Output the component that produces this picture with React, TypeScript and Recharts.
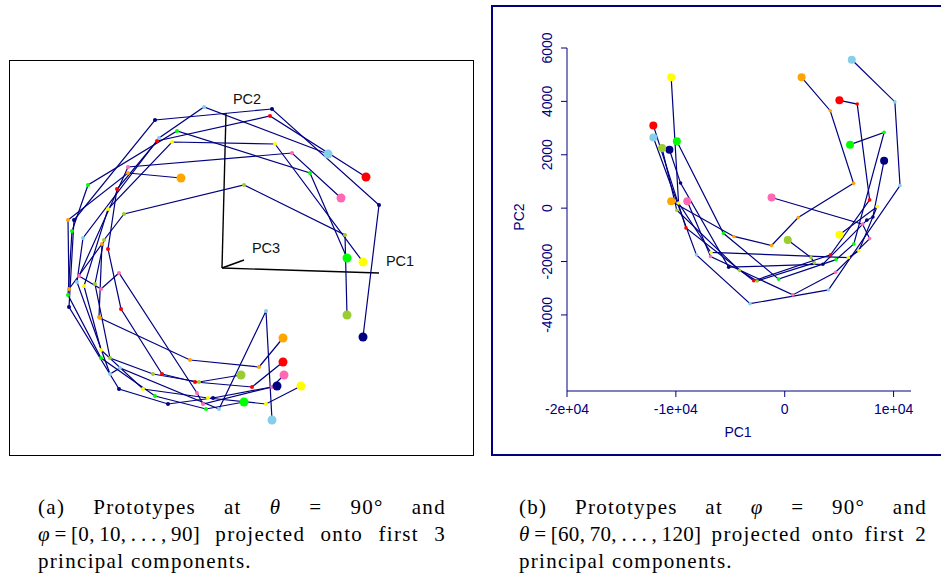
import React from "react";
import { ScatterChart, Scatter, XAxis, YAxis, ReferenceLine } from "recharts";

const NAVY = "#000080";
const SANS = "'Liberation Sans', Arial, Helvetica, sans-serif";
const SERIF = "'Liberation Serif', 'Times New Roman', serif";

// (a) prototypes, phi = 0..90, projected onto PC1-PC3 (screen projection units, origin at the PC axes)
const leftOrange = [[-41, 90], [-94, 95], [-154, 48], [-153, -21], [-120, 24], [-123, -49], [-122, -50], [-32, -92], [37, -99], [61, -70]];
const leftRed = [[144, 91], [48, 152], [-65, 127], [-105, 79], [-114, 19], [-101, -41], [-60, -106], [-27, -114], [30, -119], [61, -94]];
const leftPink = [[119, 70], [70, 115], [-94, 101], [-143, -8], [-121, -21], [-103, -5], [-25, -125], [-19, -136], [50, -119], [62, -107]];
const leftNavy = [[141, -69], [157, 63], [50, 159], [-67, 148], [-148, 48], [-153, -39], [-103, -121], [-54, -136], [-9, -130], [55, -118]];
const leftYellow = [[141, 6], [53, 124], [-50, 126], [-114, 59], [-138, -18], [-121, -82], [-79, -121], [-14, -130], [44, -136], [79, -118]];
const leftGreen = [[125, 10], [88, 95], [-45, 137], [-134, 83], [-150, 37], [-154, -27], [-121, -90], [-67, -128], [-16, -141], [22, -134]];
const leftYellowgreen = [[125, -47], [123, 33], [22, 83], [-98, 54], [-118, 28], [-127, -16], [-112, -90], [-69, -106], [-23, -114], [19, -107]];
const leftSkyblue = [[106, 114], [-18, 161], [-63, 130], [-139, 30], [-145, -14], [-112, -106], [-102, -100], [-3, -141], [44, -43], [50, -152]];

const pcAxisEnds = [
  { name: "PC1", x: 157, y: -5 },
  { name: "PC2", x: 4, y: 155 },
  { name: "PC3", x: 22, y: 8 },
];
const pcLabels = [
  { name: "PC1", x: 178, y: 7 },
  { name: "PC2", x: 25, y: 169 },
  { name: "PC3", x: 44, y: 20 },
];

// (b) prototypes, theta = 60..120, PC1 vs PC2
const rightOrange = [[-10430, 260], [-4670, -1060], [-1210, -1400], [1240, -350], [6320, 930], [4180, 3650], [1550, 4900]];
const rightRed = [[-12070, 3100], [-9070, -740], [-2850, -2720], [4210, -1750], [7800, 310], [6660, 3900], [5020, 4040]];
const rightPink = [[-8950, 260], [-6810, -1810], [740, -3250], [4670, -2400], [7800, -1140], [7150, -600], [-1210, 400]];
const rightNavy = [[-10590, 2190], [-9570, 940], [-5150, -2210], [3500, -2100], [7540, -450], [8100, -330], [9130, 1780]];
const rightYellow = [[-10430, 4900], [-9750, 190], [-6780, -1660], [5850, -1850], [6810, -1600], [8480, 50], [5020, -1000]];
const rightGreen = [[-9910, 2510], [-5630, -940], [-560, -2660], [4710, -1930], [6350, -1340], [9130, 2840], [6000, 2380]];
const rightYellowgreen = [[-11270, 2250], [-9910, -80], [-4150, -2330], [-2540, -2730], [2720, -2050], [2410, -1850], [280, -1190]];
const rightSkyblue = [[-12070, 2650], [-8110, -1750], [-3190, -3580], [4020, -3060], [10590, 850], [10120, 3980], [6160, 5560]];

const xTicks = [-20000, -10000, 0, 10000];
const yTicks = [-4000, -2000, 0, 2000, 4000, 6000];

const colors = ["#FFA500", "#FF0000", "#FF69B4", "#000080", "#FFFF00", "#00FF00", "#9ACD32", "#87CEEB"];
const leftSets = [leftOrange, leftRed, leftPink, leftNavy, leftYellow, leftGreen, leftYellowgreen, leftSkyblue];
const rightSets = [rightOrange, rightRed, rightPink, rightNavy, rightYellow, rightGreen, rightYellowgreen, rightSkyblue];

const toPoints = (pts: number[][]) =>
  pts.map(([x, y], i) => ({ x, y, end: i === 0 || i === pts.length - 1 }));

const empty = () => <g />;

const dot = (color: string, big: number, small: number) => (p: any) => (
  <circle cx={p.cx} cy={p.cy} r={p.payload && p.payload.end ? big : small} fill={color} />
);

const pcText = (p: any) => (
  <text x={p.cx} y={p.cy} textAnchor="middle" dominantBaseline="central" fontSize={14.5} fontFamily={SANS} fill="#111">
    {p.payload.name}
  </text>
);

const fmtX = (v: number) => (v === 0 ? "0" : `${v / 10000}e+04`);

const YTick = (p: any) => {
  const bx = p.x - 7;
  return (
    <text x={bx} y={p.y} transform={`rotate(-90, ${bx}, ${p.y})`} textAnchor="middle" fontSize={14} fontFamily={SANS} fill={NAVY}>
      {p.payload.value}
    </text>
  );
};

const series = (sets: number[][][], big: number, small: number, tag: string) => [
  ...sets.map((s, i) => (
    <Scatter key={`${tag}l${i}`} data={toPoints(s)} line={{ stroke: NAVY, strokeWidth: 1.2 }} shape={empty} isAnimationActive={false} />
  )),
  ...sets.map((s, i) => (
    <Scatter key={`${tag}d${i}`} data={toPoints(s)} shape={dot(colors[i], big, small)} isAnimationActive={false} />
  )),
];

const greek = (s: string) =>
  s.split(/([θφ])/).map((part, i) => (part === "θ" || part === "φ" ? <i key={i}>{part}</i> : <span key={i}>{part}</span>));

const captionA = [
  ["(a)", "Prototypes", "at", "θ", "=", "90°", "and"],
  ["φ\u2009=\u2009[0,\u200910,\u2009.\u2009.\u2009.\u2009,\u200990]", "projected", "onto", "first", "3"],
];
const captionB = [
  ["(b)", "Prototypes", "at", "φ", "=", "90°", "and"],
  ["θ\u2009=\u2009[60,\u200970,\u2009.\u2009.\u2009.\u2009,\u2009120]", "projected", "onto", "first", "2"],
];
const captionEnd = "principal components.";

const Caption = ({ lines, left }: { lines: string[][]; left: number }) => (
  <div style={{ position: "absolute", left, top: 494, width: 408, fontFamily: SERIF, fontSize: 21, letterSpacing: 1.3, lineHeight: "27px", color: "#000" }}>
    {lines.map((words, i) => (
      <div key={i} style={{ display: "flex", justifyContent: "space-between", whiteSpace: "pre" }}>
        {words.map((w, j) => (
          <span key={j} style={w.includes("[") ? { letterSpacing: 0.3 } : undefined}>{greek(w)}</span>
        ))}
      </div>
    ))}
    <div>{captionEnd}</div>
  </div>
);

export default function App() {
  return (
    <div style={{ position: "absolute", left: 0, top: 0, width: 941, height: 573, overflow: "hidden", background: "#fff" }}>
      <div style={{ position: "absolute", left: 9, top: 60, width: 463, height: 394, border: "1px solid #000" }}>
        <ScatterChart width={463} height={394} margin={{ top: 0, right: 0, bottom: 0, left: 0 }}>
          <XAxis type="number" dataKey="x" domain={[-212, 251]} allowDataOverflow hide />
          <YAxis type="number" dataKey="y" domain={[-187, 207]} allowDataOverflow hide />
          {pcAxisEnds.map((a) => (
            <ReferenceLine key={a.name} segment={[{ x: 0, y: 0 }, { x: a.x, y: a.y }]} stroke="#000" strokeWidth={1.4} ifOverflow="visible" />
          ))}
          {series(leftSets, 4.5, 2, "a")}
          <Scatter data={pcLabels} shape={pcText} isAnimationActive={false} />
        </ScatterChart>
      </div>

      <div style={{ position: "absolute", left: 491, top: 5, width: 452, height: 447, border: `2px solid ${NAVY}` }}>
        <ScatterChart width={448} height={447} margin={{ top: 41, right: 30, bottom: 23, left: 14 }}>
          <XAxis
            type="number"
            dataKey="x"
            domain={[-20000, 11600]}
            allowDataOverflow
            ticks={xTicks}
            tickFormatter={fmtX}
            stroke={NAVY}
            tickSize={6}
            tickMargin={7}
            height={40}
            tick={{ fill: NAVY, fontSize: 14, fontFamily: SANS }}
          />
          <YAxis
            type="number"
            dataKey="y"
            domain={[-6850, 6000]}
            allowDataOverflow
            ticks={yTicks}
            stroke={NAVY}
            tickSize={6}
            width={60}
            tick={<YTick />}
          />
          {series(rightSets, 4, 1.8, "b")}
        </ScatterChart>
        <div style={{ position: "absolute", left: 738 - 493 - 30, top: 424 - 7, width: 60, textAlign: "center", fontFamily: SANS, fontSize: 14, color: NAVY }}>
          PC1
        </div>
        <div style={{ position: "absolute", left: 519 - 493 - 30, top: 218 - 7 - 9, width: 60, textAlign: "center", fontFamily: SANS, fontSize: 14, color: NAVY, transform: "rotate(-90deg)" }}>
          PC2
        </div>
      </div>

      <Caption lines={captionA} left={38} />
      <Caption lines={captionB} left={519} />
    </div>
  );
}
